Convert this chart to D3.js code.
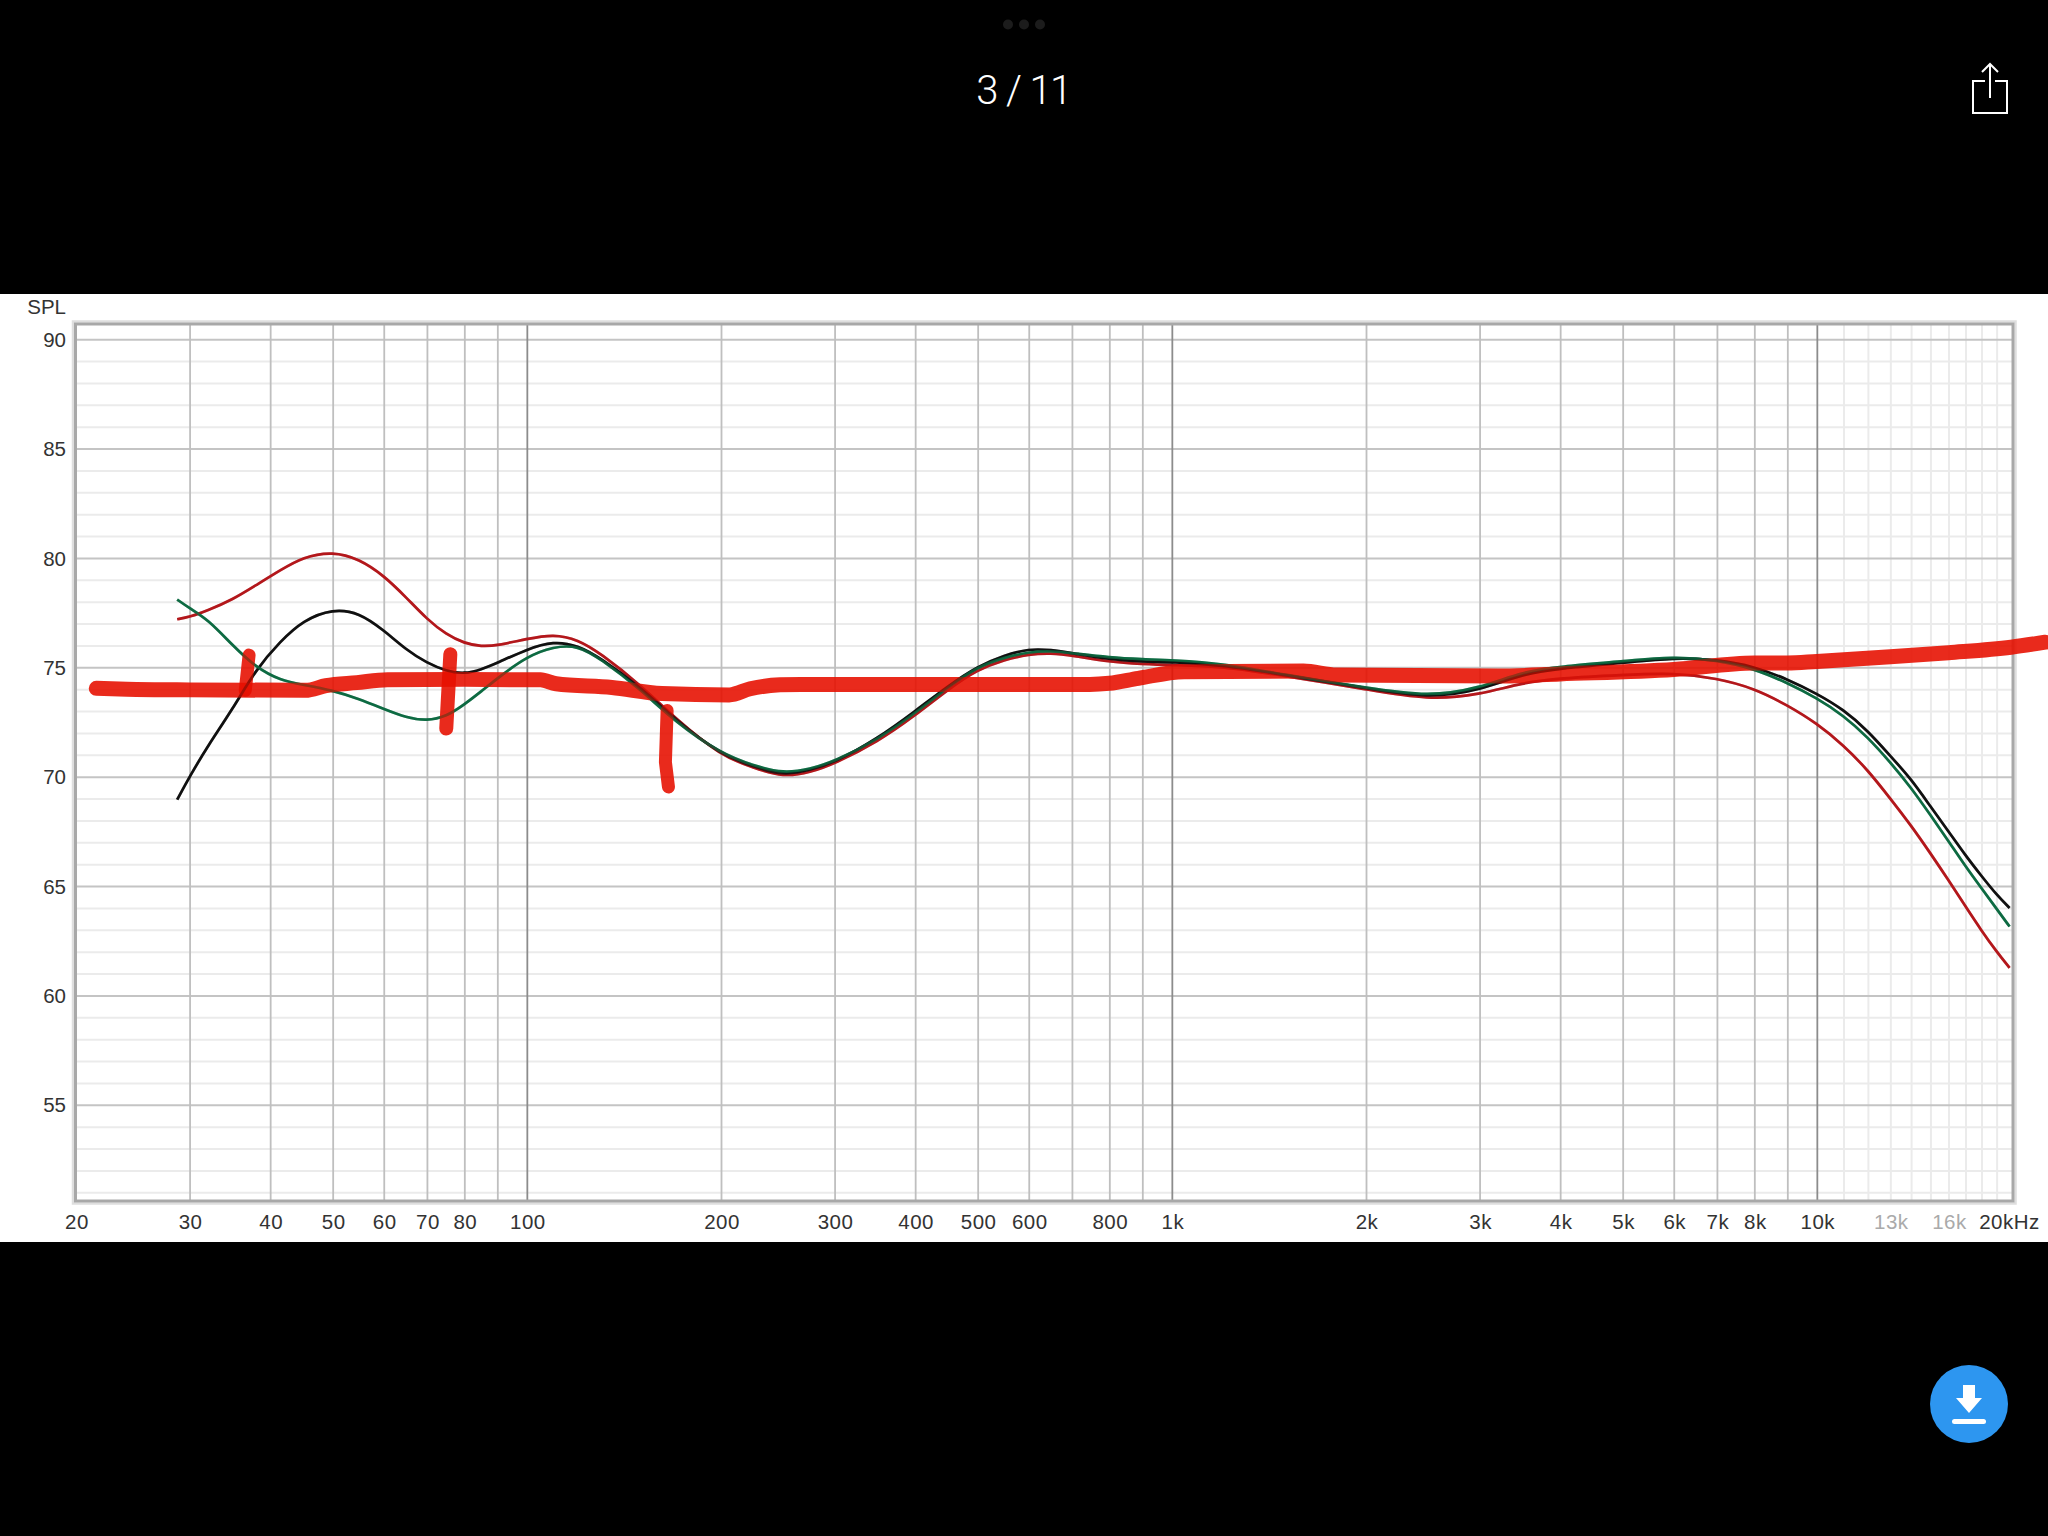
<!DOCTYPE html>
<html><head><meta charset="utf-8">
<script src="https://cdn.jsdelivr.net/npm/d3@7/dist/d3.min.js"></script>
<style>html,body{margin:0;background:#000}svg{display:block}</style></head>
<body><svg id="c" width="2048" height="1536"></svg>
<script>
const curveFreq=[28.7,30,32,35,38,41.5,45,50,55,60,65,70,75,80,85,90,100,110,120,130,150,170,200,225,250,275,300,350,400,450,500,550,600,650,700,800,900,1000,1200,1500,2000,2500,3000,3500,4000,5000,6000,7000,8000,9000,10000,11000,12000,13000,14000,15000,16000,17000,18000,19000,19900];
const redDb=[77.2,77.3,77.6,78.1,78.75,79.45,80.05,80.3,79.95,79.2,78.2,77.2,76.5,76.1,75.95,76.0,76.3,76.52,76.27,75.65,74.2,72.65,70.95,70.4,69.98,70.2,70.6,71.6,72.8,74.0,74.9,75.35,75.6,75.65,75.55,75.25,75.15,75.1,75.05,74.6,74.0,73.5,73.75,74.3,74.5,74.65,74.75,74.5,74.04,73.27,72.44,71.44,70.3,69.0,67.77,66.5,65.27,64.07,62.96,62.0,61.26];
const blackDb=[68.95,70.0,71.4,73.1,74.9,76.2,77.15,77.68,77.5,76.7,75.8,75.2,74.83,74.7,74.9,75.2,75.83,76.2,76.0,75.43,74.1,72.6,71.0,70.45,70.05,70.3,70.65,71.75,73.0,74.15,75.05,75.55,75.85,75.8,75.65,75.37,75.25,75.25,75.1,74.65,74.05,73.58,73.95,74.7,74.96,75.2,75.45,75.35,75.04,74.46,73.8,73.07,72.1,70.95,69.9,68.64,67.5,66.4,65.46,64.6,64.0];
const greenDb=[78.1,77.7,77.2,76.0,75.0,74.4,74.2,73.95,73.55,73.1,72.7,72.55,72.75,73.3,73.9,74.5,75.5,75.95,76.0,75.4,74.0,72.5,71.05,70.5,70.15,70.35,70.7,71.7,72.9,74.1,75.03,75.45,75.7,75.75,75.65,75.45,75.37,75.33,75.18,74.65,74.07,73.65,74.05,74.8,75.04,75.27,75.5,75.33,74.94,74.29,73.6,72.8,71.8,70.66,69.5,68.25,67.06,65.9,64.9,63.96,63.15];
const markFreq=[21.5,24,30,45.4,48.8,54.5,60.8,80,105,111,135.5,162,206,222,247,266,400,746,800,887,1045,1600,1800,3200,4000,6000,8000,9000,10000,13000,16000,20000,22600];
const markDb=[74.04,74.0,73.97,73.95,74.16,74.3,74.43,74.45,74.43,74.25,74.08,73.8,73.74,74.02,74.2,74.22,74.22,74.22,74.27,74.5,74.8,74.83,74.65,74.6,74.7,74.9,75.2,75.2,75.27,75.48,75.67,75.92,76.15];
const tickAFreq=[37.1,36.6],tickADb=[75.56,73.95];
const tickBFreq=[76.1,75],tickBDb=[75.6,72.2];
const tickCFreq=[165,164,165.8],tickCDb=[73.03,70.67,69.53];
const yMajor=[55,60,65,70,75,80,85,90];
const yMinor=d3.range(51,91).filter(v=>v%5);
const xDecades=[100,1000,10000];
const xMain=[30,40,50,60,70,80,90,200,300,400,500,600,700,800,900,2000,3000,4000,5000,6000,7000,8000,9000];
const xLight=[11000,12000,13000,14000,15000,16000,17000,18000,19000];
const xLabels=[20,30,40,50,60,70,80,100,200,300,400,500,600,800,1000,2000,3000,4000,5000,6000,7000,8000,10000,13000,16000,20000];
const labelText=["20","30","40","50","60","70","80","100","200","300","400","500","600","800","1k","2k","3k","4k","5k","6k","7k","8k","10k","13k","16k","20kHz"];
const F="'Liberation Sans',Arial,sans-serif";
const svg=d3.select("#c");
svg.append("rect").attr("width",2048).attr("height",1536).attr("fill","#000");
svg.append("rect").attr("y",294).attr("width",2048).attr("height",948).attr("fill","#fff");
const L=76.5,R=2012,T=325,B=1200;
const x=d3.scaleLog().domain([20,20000]).range([76,2011]);
const y=d3.scaleLinear().domain([50.65,90.65]).range([B,T]);
const grid=(gen,tf,col,w)=>{const g=svg.append("g").attr("transform",tf).call(gen.tickFormat("").tickSizeOuter(0));
 g.select(".domain").remove();g.selectAll("line").attr("stroke",col).attr("stroke-width",w);};
grid(d3.axisLeft(y).tickValues(yMinor).tickSize(-(R-L)),`translate(${L},0)`,"#ebebeb",2);
grid(d3.axisBottom(x).tickValues(xLight).tickSize(-(B-T)),`translate(0,${B})`,"#ebebeb",2);
grid(d3.axisLeft(y).tickValues(yMajor).tickSize(-(R-L)),`translate(${L},0)`,"#c4c4c4",2);
grid(d3.axisBottom(x).tickValues(xMain).tickSize(-(B-T)),`translate(0,${B})`,"#bfbfbf",1.8);
grid(d3.axisBottom(x).tickValues(xDecades).tickSize(-(B-T)),`translate(0,${B})`,"#8c8c8c",1.8);
// frame
svg.append("rect").attr("x",L-3.5).attr("y",T-3.5).attr("width",R-L+7).attr("height",B-T+7).attr("fill","none").attr("stroke","#dedede").attr("stroke-width",2.5);
svg.append("rect").attr("x",L-1).attr("y",T-1).attr("width",R-L+2).attr("height",B-T+2).attr("fill","none").attr("stroke","#a8a8a8").attr("stroke-width",3);
// y labels
const ya=svg.append("g").attr("transform","translate(66,0.5)").call(d3.axisLeft(y).tickValues(yMajor).tickSize(0).tickPadding(0).tickFormat(d3.format("d")));
ya.select(".domain").remove();
ya.selectAll("text").attr("font-family",F).attr("font-size",20.5).attr("fill","#333");
svg.append("text").attr("x",66).attr("y",314).attr("text-anchor","end").attr("font-family",F).attr("font-size",20.5).attr("fill","#333").text("SPL");
// x labels
const xa=svg.append("g").attr("transform","translate(0,1214)").call(d3.axisBottom(x).tickValues(xLabels).tickSize(0).tickPadding(0).tickFormat(d=>labelText[xLabels.indexOf(d)]));
xa.select(".domain").remove();
xa.selectAll("text").attr("font-family",F).attr("font-size",20.5).attr("letter-spacing",0.5)
 .attr("fill",d=>(d===13000||d===16000)?"#aaa":"#333").attr("dy","0.71em")
 .attr("dx",d=>d===20000?-2:0.5);
// curves
const curve=d3.line().x(d=>x(d[0])).y(d=>y(d[1])).curve(d3.curveBasis);
const series=[[redDb,"#b3171c"],[blackDb,"#111"],[greenDb,"#0e6b42"]];
const drawSeries=(op)=>series.forEach(([v,c])=>svg.append("path").attr("d",curve(v.map((d,i)=>[curveFreq[i],d]))).attr("fill","none").attr("stroke",c).attr("stroke-width",2.7).attr("stroke-opacity",op));
drawSeries(1);
// hand-drawn marks
const hand=d3.line().x(d=>x(d[0])).y(d=>y(d[1])).curve(d3.curveMonotoneX);
const handV=d3.line().x(d=>x(d[0])).y(d=>y(d[1]));
const mk=(d,w)=>svg.append("path").attr("d",d).attr("fill","none").attr("stroke","#e61000").attr("stroke-opacity",0.89).attr("stroke-width",w).attr("stroke-linecap","round").attr("stroke-linejoin","round");
mk(hand(markFreq.map((f,i)=>[f,markDb[i]])),15);
mk(handV(tickAFreq.map((f,i)=>[f,tickADb[i]])),13);
mk(handV(tickBFreq.map((f,i)=>[f,tickBDb[i]])),14);
mk(handV(tickCFreq.map((f,i)=>[f,tickCDb[i]])),13);
drawSeries(0.3);
// viewer chrome
svg.append("text").attr("x",1023.5).attr("y",104).attr("text-anchor","middle").attr("font-family","Roboto,sans-serif").attr("font-weight",300).attr("font-size",40).attr("letter-spacing",-1.6).attr("word-spacing",1).attr("fill","#fff").text("3 / 11");
[1008,1024,1040].forEach(cx=>svg.append("circle").attr("cx",cx).attr("cy",24.5).attr("r",5).attr("fill","#1c1c1c"));
svg.append("path").attr("d","M1985 81H1973V113H2007V81H1995M1990 98V64M1982 72L1990 64L1998 72").attr("fill","none").attr("stroke","#fff").attr("stroke-width",2);
svg.append("circle").attr("cx",1969).attr("cy",1404).attr("r",39).attr("fill","#2d96f0");
svg.append("path").attr("d","M1963 1385H1975V1398H1982L1969 1413L1956 1398H1963Z").attr("fill","#fff");
svg.append("rect").attr("x",1952).attr("y",1419).attr("width",34).attr("height",5).attr("rx",2.5).attr("fill","#fff");
</script></body></html>
